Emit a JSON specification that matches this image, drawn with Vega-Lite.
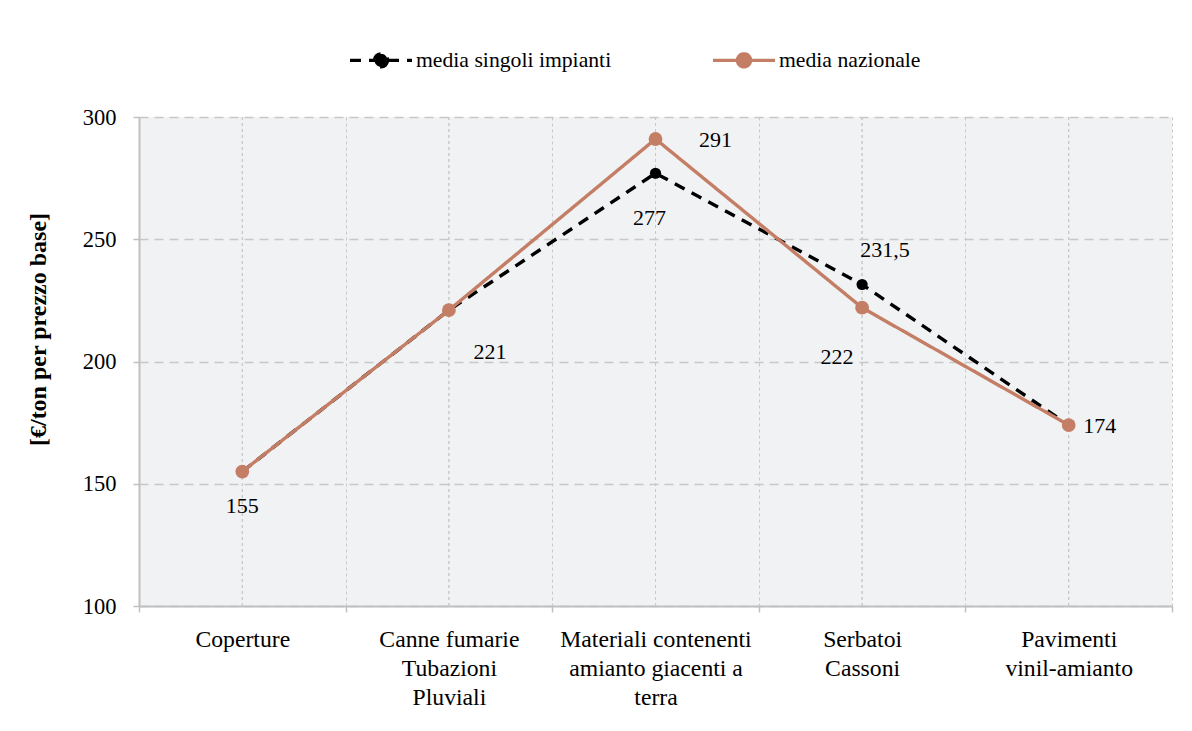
{
  "$schema": "https://vega.github.io/schema/vega-lite/v6.json",
  "width": 1033,
  "height": 489,
  "autosize": {"type": "none"},
  "padding": {"left": 139, "top": 117, "right": 20, "bottom": 125},
  "background": "#ffffff",
  "config": {
    "view": {"fill": "#f1f2f4", "stroke": null},
    "font": "Liberation Serif",
    "locale": {"number": {"decimal": ",", "thousands": ".", "grouping": [3], "currency": ["€", ""]}}
  },
  "data": {
    "values": [
      {"cat": "Coperture", "series": "media singoli impianti", "value": 155},
      {"cat": "Canne fumarie|Tubazioni|Pluviali", "series": "media singoli impianti", "value": 221},
      {"cat": "Materiali contenenti|amianto giacenti a|terra", "series": "media singoli impianti", "value": 277},
      {"cat": "Serbatoi|Cassoni", "series": "media singoli impianti", "value": 231.5},
      {"cat": "Pavimenti|vinil-amianto", "series": "media singoli impianti", "value": 174},
      {"cat": "Coperture", "series": "media nazionale", "value": 155},
      {"cat": "Canne fumarie|Tubazioni|Pluviali", "series": "media nazionale", "value": 221},
      {"cat": "Materiali contenenti|amianto giacenti a|terra", "series": "media nazionale", "value": 291},
      {"cat": "Serbatoi|Cassoni", "series": "media nazionale", "value": 222},
      {"cat": "Pavimenti|vinil-amianto", "series": "media nazionale", "value": 174}
    ]
  },
  "encoding": {
    "x": {
      "field": "cat",
      "type": "nominal",
      "sort": null,
      "bandPosition": 0.5,
      "scale": {"type": "band", "paddingInner": 0, "paddingOuter": 0},
      "axis": {
        "title": null,
        "labelExpr": "split(datum.label, '|')",
        "labelAngle": 0,
        "labelFont": "Liberation Serif",
        "labelFontSize": 23.7,
        "labelLineHeight": 29,
        "labelColor": "#000000",
        "labelBaseline": "top",
        "labelPadding": 15,
        "labelLimit": 0,
        "tickBand": "extent",
        "ticks": true,
        "tickSize": 6,
        "tickColor": "#c0c0c0",
        "tickWidth": 1.5,
        "domainColor": "#c0c0c0",
        "domainWidth": 2,
        "grid": true,
        "gridDash": [3, 3],
        "gridColor": "#c8c8c8",
        "gridWidth": 1
      }
    }
  },
  "layer": [
    {
      "mark": {"type": "rule", "stroke": "#c8c8c8", "strokeDash": [3, 3], "strokeWidth": 1},
      "encoding": {}
    },
    {
      "mark": {"type": "line", "strokeWidth": 3.4},
      "encoding": {
        "y": {
          "field": "value",
          "type": "quantitative",
          "scale": {"domain": [100, 300]},
          "axis": {
            "values": [100, 150, 200, 250, 300],
            "title": "[€/ton per prezzo base]",
            "titleFont": "Liberation Serif",
            "titleFontSize": 24,
            "titleFontWeight": "bold",
            "titleColor": "#000000",
            "titleX": -101,
            "titleY": 212,
            "titleAngle": -90,
            "titleBaseline": "middle",
            "titleAlign": "center",
            "labelFont": "Liberation Serif",
            "labelFontSize": 22.5,
            "labelColor": "#000000",
            "labelPadding": 17,
            "tickSize": 6,
            "tickColor": "#c0c0c0",
            "tickWidth": 1.5,
            "domainColor": "#c0c0c0",
            "domainWidth": 2,
            "grid": true,
            "gridDash": [9, 6],
            "gridColor": "#c8c8c8",
            "gridWidth": 1.5
          }
        },
        "color": {
          "field": "series",
          "type": "nominal",
          "scale": {"domain": ["media singoli impianti", "media nazionale"], "range": ["#000000", "#c47e65"]},
          "legend": {
            "title": null,
            "orient": "none",
            "direction": "horizontal",
            "legendX": 209,
            "legendY": -90,
            "padding": 0,
            "symbolType": "M-1,0L1,0M0.21,0A0.21,0.21,0,1,1,-0.21,0A0.21,0.21,0,1,1,0.21,0Z",
            "symbolSize": 3844,
            "symbolStrokeWidth": 3.4,
            "labelFont": "Liberation Serif",
            "labelFontSize": 21.7,
            "labelColor": "#000000",
            "labelOffset": 2,
            "labelLimit": 0,
            "columnPadding": 94,
            "encode": {
              "symbols": {
                "update": {
                  "fill": {"scale": "color", "field": "value"},
                  "fillOpacity": {"value": 1},
                  "size": {"value": 3844},
                  "strokeWidth": {"value": 3.4}
                }
              }
            }
          }
        },
        "strokeDash": {
          "field": "series",
          "type": "nominal",
          "scale": {"domain": ["media singoli impianti", "media nazionale"], "range": [[11, 8], [1, 0]]},
          "legend": null
        }
      }
    },
    {
      "transform": [{"filter": "datum.series === 'media singoli impianti'"}],
      "mark": {"type": "point", "filled": true, "opacity": 1, "size": 125, "color": "#000000"},
      "encoding": {
        "y": {"field": "value", "type": "quantitative"}
      }
    },
    {
      "transform": [{"filter": "datum.series === 'media nazionale'"}],
      "mark": {"type": "point", "filled": true, "opacity": 1, "size": 190, "color": "#c47e65"},
      "encoding": {
        "y": {"field": "value", "type": "quantitative"}
      }
    },
    {
      "transform": [{"filter": "datum.series === 'media nazionale' && datum.cat === 'Coperture'"}],
      "mark": {"type": "text", "fontSize": 22, "color": "#000000", "dy": 34, "dx": 0},
      "encoding": {"y": {"field": "value", "type": "quantitative"}, "text": {"field": "value", "type": "quantitative", "format": ".1~f"}}
    },
    {
      "transform": [{"filter": "datum.series === 'media nazionale' && datum.cat === 'Canne fumarie|Tubazioni|Pluviali'"}],
      "mark": {"type": "text", "fontSize": 22, "color": "#000000", "dy": 42, "dx": 41},
      "encoding": {"y": {"field": "value", "type": "quantitative"}, "text": {"field": "value", "type": "quantitative", "format": ".1~f"}}
    },
    {
      "transform": [{"filter": "datum.series === 'media singoli impianti' && datum.cat === 'Materiali contenenti|amianto giacenti a|terra'"}],
      "mark": {"type": "text", "fontSize": 22, "color": "#000000", "dy": 45, "dx": -6},
      "encoding": {"y": {"field": "value", "type": "quantitative"}, "text": {"field": "value", "type": "quantitative", "format": ".1~f"}}
    },
    {
      "transform": [{"filter": "datum.series === 'media nazionale' && datum.cat === 'Materiali contenenti|amianto giacenti a|terra'"}],
      "mark": {"type": "text", "fontSize": 22, "color": "#000000", "dy": 1, "dx": 60},
      "encoding": {"y": {"field": "value", "type": "quantitative"}, "text": {"field": "value", "type": "quantitative", "format": ".1~f"}}
    },
    {
      "transform": [{"filter": "datum.series === 'media singoli impianti' && datum.cat === 'Serbatoi|Cassoni'"}],
      "mark": {"type": "text", "fontSize": 22, "color": "#000000", "dy": -34, "dx": 23},
      "encoding": {"y": {"field": "value", "type": "quantitative"}, "text": {"field": "value", "type": "quantitative", "format": ".1~f"}}
    },
    {
      "transform": [{"filter": "datum.series === 'media nazionale' && datum.cat === 'Serbatoi|Cassoni'"}],
      "mark": {"type": "text", "fontSize": 22, "color": "#000000", "dy": 49, "dx": -25},
      "encoding": {"y": {"field": "value", "type": "quantitative"}, "text": {"field": "value", "type": "quantitative", "format": ".1~f"}}
    },
    {
      "transform": [{"filter": "datum.series === 'media nazionale' && datum.cat === 'Pavimenti|vinil-amianto'"}],
      "mark": {"type": "text", "fontSize": 22, "color": "#000000", "dy": 1, "dx": 31},
      "encoding": {"y": {"field": "value", "type": "quantitative"}, "text": {"field": "value", "type": "quantitative", "format": ".1~f"}}
    }
  ]
}
